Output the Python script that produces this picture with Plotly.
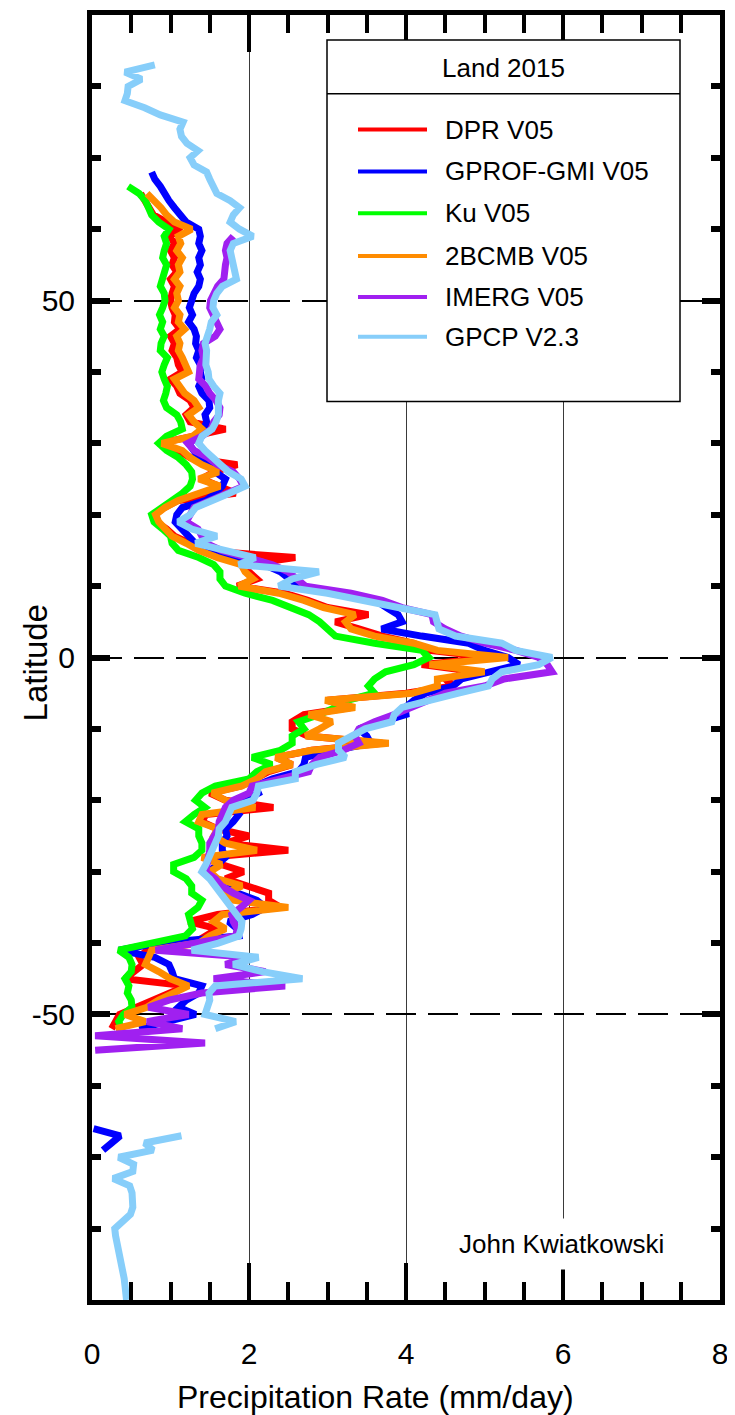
import plotly.graph_objects as go

# ---------------- data (zonal-mean land precipitation, mm/day) ----------------
LAT_DPR = list(range(65, -53, -1))
DPR = [0.62, 0.68, 0.72, 0.78, 0.95, 1.10, 1.00, 1.05, 1.00, 1.05,
       1.02, 1.08, 1.00, 1.05, 1.02, 1.00, 1.02, 1.06, 1.05, 1.12,
       1.00, 1.05, 1.02, 1.08, 1.10, 1.15, 1.00, 1.08, 1.12, 1.25,
       1.30, 1.20, 1.25, 1.70, 1.30, 0.85, 1.10, 1.25, 1.85, 1.55,
       1.40, 1.60, 1.83, 1.10, 0.92, 0.80, 0.82, 0.95, 1.05, 1.25,
       1.40, 2.59, 1.95, 2.00, 2.10, 1.85, 2.45, 2.75, 3.00, 3.52,
       3.10, 3.40, 3.70, 4.10, 4.30, 5.10, 4.20, 4.90, 4.50, 4.60,
       4.00, 3.00, 3.30, 2.70, 2.55, 2.55, 2.75, 3.70, 2.80, 2.35,
       2.55, 2.25, 2.05, 1.90, 1.50, 1.70, 2.31, 1.45, 1.40, 1.60,
       2.00, 1.70, 2.50, 1.45, 1.65, 1.93, 1.70, 2.00, 2.25, 2.25,
       2.40, 1.60, 1.23, 1.60, 1.45, 1.30, 0.70, 0.60, 0.65, 0.55,
       0.42, 1.20, 1.00, 0.80, 0.60, 0.35, 0.30, 0.25]

LAT_GPROF = list(range(68, -53, -1))
GPROF = [0.76, 0.80, 0.87, 0.92, 0.98, 1.05, 1.12, 1.20, 1.36, 1.38,
         1.36, 1.40, 1.36, 1.38, 1.34, 1.38, 1.36, 1.30, 1.27, 1.24,
         1.28, 1.23, 1.30, 1.33, 1.32, 1.36, 1.33, 1.38, 1.38, 1.40,
         1.36, 1.40, 1.49, 1.50, 1.44, 1.46, 1.42, 1.35, 1.23, 1.30,
         1.36, 1.50, 1.57, 1.70, 1.66, 1.57, 1.45, 1.15, 1.08, 1.06,
         1.15, 1.23, 1.30, 1.40, 1.75, 2.20, 2.40, 2.50, 2.63, 3.20,
         3.61, 3.75, 3.90, 3.95, 3.69, 4.20, 4.80, 5.00, 5.30, 5.44,
         5.10, 4.71, 4.60, 4.25, 4.10, 3.99, 4.00, 3.70, 3.40, 3.50,
         3.55, 3.10, 2.72, 2.70, 2.63, 2.30, 2.08, 2.12, 1.95, 1.78,
         1.87, 1.80, 1.70, 1.72, 1.66, 1.66, 1.70, 1.60, 1.49, 1.55,
         1.70, 1.85, 2.10, 2.21, 2.04, 1.74, 1.85, 1.87, 0.85, 0.34,
         0.80, 0.98, 1.02, 1.05, 1.40, 1.36, 1.20, 1.10, 1.32, 0.98,
         0.60]
LAT_GPROF_ANT = [-66, -67, -68, -69]
GPROF_ANT = [0.02, 0.36, 0.25, 0.14]

LAT_KU = list(range(66, -53, -1))
KU = [0.46, 0.60, 0.68, 0.72, 0.76, 0.85, 0.98, 0.92, 0.95, 0.92,
      0.90, 0.95, 0.92, 0.88, 0.87, 0.92, 0.93, 0.90, 0.86, 0.90,
      0.87, 0.92, 0.88, 0.87, 0.96, 0.92, 0.89, 0.92, 0.96, 0.94,
      0.91, 0.95, 1.08, 1.13, 1.15, 0.95, 0.85, 0.95, 1.10, 1.20,
      1.27, 1.28, 1.25, 1.15, 1.00, 0.89, 0.76, 0.79, 0.90, 1.00,
      1.02, 1.10, 1.36, 1.55, 1.63, 1.63, 1.70, 1.95, 2.30, 2.55,
      2.76, 2.90, 3.01, 3.10, 3.60, 4.20, 4.29, 4.10, 3.74, 3.60,
      3.52, 3.60, 3.25, 3.10, 2.90, 2.63, 2.70, 2.55, 2.55, 2.40,
      2.04, 2.29, 2.10, 2.00, 1.57, 1.40, 1.32, 1.44, 1.30, 1.19,
      1.36, 1.36, 1.40, 1.40, 1.30, 1.04, 1.04, 1.20, 1.27, 1.27,
      1.40, 1.35, 1.23, 1.25, 1.28, 1.19, 0.75, 0.34, 0.47, 0.51,
      0.50, 0.42, 0.47, 0.45, 0.50, 0.51, 0.40, 0.34, 0.38]

LAT_CMB = list(range(65, -53, -1))
CMB = [0.70, 0.80, 0.88, 0.95, 1.05, 1.27, 1.10, 1.13, 1.08, 1.15,
       1.10, 1.12, 1.05, 1.12, 1.08, 1.10, 1.05, 1.12, 1.10, 1.18,
       1.08, 1.12, 1.10, 1.15, 1.20, 1.23, 1.05, 1.12, 1.18, 1.30,
       1.36, 1.23, 1.30, 1.40, 1.28, 0.89, 1.15, 1.25, 1.40, 1.61,
       1.36, 1.63, 1.36, 1.10, 0.93, 0.81, 0.85, 0.95, 1.02, 1.20,
       1.36, 1.60, 1.90, 1.95, 2.05, 1.87, 2.38, 2.70, 2.95, 3.35,
       3.23, 3.30, 3.60, 4.10, 4.40, 5.30, 4.30, 5.00, 4.40, 4.40,
       4.08, 2.97, 3.35, 2.76, 3.06, 2.90, 2.72, 3.78, 2.80, 2.34,
       2.55, 2.21, 2.10, 1.91, 1.53, 1.70, 2.08, 1.40, 1.36, 1.60,
       1.55, 1.70, 2.10, 1.40, 1.65, 1.50, 1.60, 1.91, 1.70, 1.80,
       2.50, 1.66, 1.55, 1.70, 1.50, 1.36, 0.76, 0.72, 0.68, 0.85,
       1.00, 1.23, 1.02, 0.85, 0.70, 0.42, 0.68, 0.30]

LAT_IMERG = list(range(59, -56, -1))
IMERG = [1.80, 1.72, 1.70, 1.72, 1.70, 1.68, 1.68, 1.60, 1.55, 1.51,
         1.50, 1.55, 1.58, 1.63, 1.57, 1.42, 1.40, 1.42, 1.38, 1.38,
         1.36, 1.45, 1.50, 1.58, 1.63, 1.62, 1.55, 1.52, 1.40, 1.22,
         1.30, 1.48, 1.60, 1.80, 1.88, 1.93, 1.70, 1.50, 1.30, 1.25,
         1.20, 1.35, 1.40, 1.45, 1.65, 2.00, 2.30, 2.50, 2.60, 2.72,
         3.30, 3.70, 3.95, 4.33, 4.35, 4.50, 4.70, 5.00, 5.40, 5.69,
         5.80, 5.86, 5.25, 5.00, 4.50, 4.30, 4.10, 3.85, 3.60, 3.40,
         3.35, 3.40, 3.20, 2.90, 2.80, 2.76, 2.40, 2.04, 2.00, 1.80,
         1.70, 1.65, 1.62, 1.61, 1.55, 1.50, 1.50, 1.48, 1.45, 1.45,
         1.57, 1.65, 1.80, 2.00, 1.90, 1.78, 1.80, 1.85, 1.83, 1.27,
         0.81, 2.00, 1.70, 2.21, 1.55, 2.46, 1.40, 0.98, 0.72, 1.23,
         0.70, 1.15, 0.04, 1.44, 0.04]

LAT_GPCP = list(range(83, -53, -1))
GPCP = [0.80, 0.42, 0.63, 0.46, 0.45, 0.42, 0.67, 0.87, 1.16, 1.12,
        1.14, 1.21, 1.35, 1.25, 1.30, 1.46, 1.50, 1.55, 1.59, 1.76,
        1.88, 1.80, 1.76, 1.88, 2.05, 1.80, 1.76, 1.78, 1.80, 1.83,
        1.84, 1.66, 1.59, 1.55, 1.54, 1.59, 1.52, 1.50, 1.46, 1.44,
        1.46, 1.46, 1.45, 1.48, 1.49, 1.55, 1.63, 1.61, 1.62, 1.61,
        1.58, 1.53, 1.40, 1.36, 1.44, 1.53, 1.65, 1.74, 1.90, 1.95,
        1.75, 1.55, 1.32, 1.25, 1.10, 1.27, 1.59, 1.32, 1.70, 2.08,
        1.87, 2.89, 2.55, 2.38, 3.00, 3.40, 3.90, 4.37, 4.40, 4.42,
        4.63, 5.22, 5.40, 5.86, 5.69, 5.22, 5.10, 5.05, 4.67, 4.30,
        3.95, 3.85, 3.82, 3.48, 3.30, 3.14, 3.14, 3.23, 2.85, 2.59,
        2.59, 2.12, 2.10, 2.05, 1.78, 1.75, 1.70, 1.62, 1.61, 1.57,
        1.52, 1.49, 1.45, 1.40, 1.50, 1.57, 1.65, 1.70, 1.78, 1.85,
        1.91, 1.90, 1.87, 1.61, 1.27, 2.12, 1.80, 2.17, 2.68, 1.57,
        1.49, 1.50, 1.48, 1.44, 1.83, 1.57]
LAT_GPCP_ANT = list(range(-67, -91, -1))
GPCP_ANT = [1.14, 0.67, 0.78, 0.34, 0.53, 0.52, 0.27, 0.48, 0.51, 0.51,
            0.52, 0.49, 0.40, 0.29, 0.30, 0.32, 0.35, 0.37, 0.39, 0.40,
            0.41, 0.42, 0.43, 0.44]

NAMES = ["DPR V05", "GPROF-GMI V05", "Ku V05", "2BCMB V05", "IMERG V05", "GPCP V2.3"]
COLORS = ["#ff0000", "#0000ff", "#00ff00", "#ff8c00", "#a020f0", "#87cefa"]

X_TICKS = [0, 2, 4, 6, 8]
Y_TICKS = [-50, 0, 50]
Y_TICKTEXT = ["-50", "0", "50"]

for a, b in [(LAT_DPR, DPR), (LAT_GPROF, GPROF), (LAT_KU, KU), (LAT_CMB, CMB),
             (LAT_IMERG, IMERG), (LAT_GPCP, GPCP), (LAT_GPROF_ANT, GPROF_ANT),
             (LAT_GPCP_ANT, GPCP_ANT)]:
    assert len(a) == len(b), (len(a), len(b))

series = [
    (DPR, LAT_DPR),
    (GPROF + [None] + GPROF_ANT, LAT_GPROF + [None] + LAT_GPROF_ANT),
    (KU, LAT_KU),
    (CMB, LAT_CMB),
    (IMERG, LAT_IMERG),
    (GPCP + [None] + GPCP_ANT, LAT_GPCP + [None] + LAT_GPCP_ANT),
]

FONT = "Liberation Sans, Arial, Helvetica, sans-serif"

fig = go.Figure()
for (vals, lats), name, col in zip(series, NAMES, COLORS):
    fig.add_trace(go.Scatter(x=vals, y=lats, mode="lines", name=name,
                             line=dict(color=col, width=7),
                             showlegend=False, hoverinfo="skip"))

# ---------------- layout ----------------
# the page body adds an 8px offset; figure sized so plot area lands at
# window x 92..720, y 10..1300
OFF = 8
W, H = 735 - OFF, 1415 - OFF
L, T = 92 - OFF, 10 - OFF
PW, PH = 628, 1290
R, B = W - L - PW, H - T - PH


def px(xw):
    return (xw - OFF - L) / PW


def py(yw):
    return (T + PH - (yw - OFF)) / PH


fig.update_layout(
    width=W, height=H,
    margin=dict(l=L, r=R, t=T, b=B, pad=0),
    paper_bgcolor="white", plot_bgcolor="white",
    font=dict(family=FONT, color="black"),
    showlegend=False,
    xaxis=dict(range=[0, 8], tickvals=X_TICKS, ticks="inside", ticklen=37,
               tickwidth=4, tickcolor="black", showline=True, linewidth=5,
               linecolor="black", mirror="ticks", showgrid=True,
               gridcolor="#3a3a3a", gridwidth=1.3, zeroline=False,
               tickfont=dict(size=30), ticklabelstandoff=23,
               minor=dict(dtick=0.5, ticks="inside", ticklen=18, tickwidth=4,
                          tickcolor="black", showgrid=False)),
    yaxis=dict(range=[-90, 90], tickvals=Y_TICKS, ticktext=Y_TICKTEXT,
               ticks="inside", ticklen=18,
               tickwidth=6, tickcolor="black", showline=True, linewidth=5,
               linecolor="black", mirror="ticks", showgrid=True,
               gridcolor="black", gridwidth=2, griddash="30px,12px",
               zeroline=False, tickfont=dict(size=30), ticklabelstandoff=6,
               minor=dict(dtick=10, ticks="inside", ticklen=9, tickwidth=6,
                          tickcolor="black", showgrid=False)),
)

shapes = []
# legend box
shapes.append(dict(type="rect", xref="paper", yref="paper",
                   x0=px(327), x1=px(680), y0=py(398), y1=py(35),
                   fillcolor="white", line=dict(color="black", width=1.5),
                   layer="above"))
shapes.append(dict(type="line", xref="paper", yref="paper",
                   x0=px(327), x1=px(680), y0=py(89), y1=py(89),
                   line=dict(color="black", width=1.5), layer="above"))

annotations = []
annotations.append(dict(xref="paper", yref="paper", x=px(503), y=py(63),
                        text="Land 2015", showarrow=False,
                        font=dict(size=26), xanchor="center", yanchor="middle"))
rows = [125, 167, 209, 252, 293, 333]
for r, name, col in zip(rows, NAMES, COLORS):
    shapes.append(dict(type="line", xref="paper", yref="paper",
                       x0=px(358), x1=px(427), y0=py(r), y1=py(r),
                       line=dict(color=col, width=4), layer="above"))
    annotations.append(dict(xref="paper", yref="paper", x=px(443), y=py(r),
                            text=name, showarrow=False, font=dict(size=26),
                            xanchor="left", yanchor="middle"))

annotations.append(dict(xref="paper", yref="paper", x=px(561), y=py(1244),
                        text="John Kwiatkowski", showarrow=False,
                        font=dict(size=26), bgcolor="white", borderpad=10,
                        xanchor="center", yanchor="middle"))
annotations.append(dict(xref="paper", yref="paper", x=px(375), y=py(1397),
                        text="Precipitation Rate (mm/day)", showarrow=False,
                        font=dict(size=32), xanchor="center", yanchor="middle"))
annotations.append(dict(xref="paper", yref="paper", x=px(35), y=py(661),
                        text="Latitude", showarrow=False, textangle=-90,
                        font=dict(size=33), xanchor="center", yanchor="middle"))

fig.update_layout(shapes=shapes, annotations=annotations)

fig.write_html("out.html")
